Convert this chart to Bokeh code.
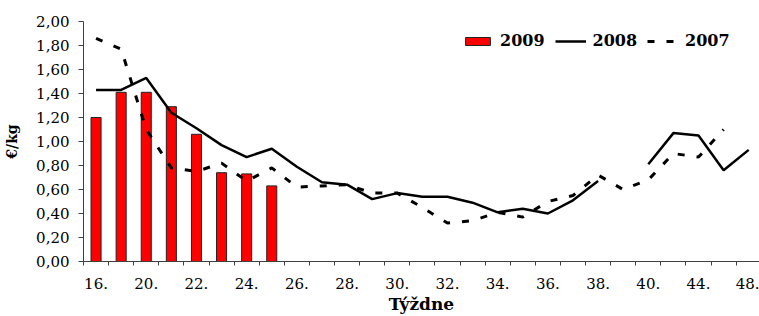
from bokeh.plotting import figure
from bokeh.models import (Range1d, FixedTicker, CustomJSTickFormatter, Legend,
                          LegendItem, ColumnDataSource)
from bokeh.embed import file_html
from bokeh.resources import INLINE

NaN = float("nan")

# categories (weeks) and tick labels
weeks = ["16.", "18.", "20.", "21.", "22.", "23.", "24.", "25.", "26.", "27.",
         "28.", "29.", "30.", "31.", "32.", "33.", "34.", "35.", "36.", "37.",
         "38.", "39.", "40.", "42.", "44.", "46.", "48."]

# series values (EUR/kg)
y2009 = [1.20, 1.41, 1.41, 1.29, 1.06, 0.74, 0.73, 0.63]
y2008 = [1.43, 1.43, 1.53, 1.24, 1.11, 0.97, 0.87, 0.94, 0.79, 0.66, 0.64, 0.52,
         0.57, 0.54, 0.54, 0.49, 0.41, 0.44, 0.40, 0.51, 0.67, NaN, 0.81, 1.07,
         1.05, 0.76, 0.93]
y2007 = [1.86, 1.77, 1.10, 0.78, 0.75, 0.82, 0.67, 0.78, 0.62, 0.63, 0.64, 0.57,
         0.57, 0.45, 0.32, 0.34, 0.41, 0.37, 0.50, 0.55, 0.72, 0.60, 0.68, 0.90,
         0.87, 1.10, NaN]

y_ticks = [0.0, 0.2, 0.4, 0.6, 0.8, 1.0, 1.2, 1.4, 1.6, 1.8, 2.0]

n = len(weeks)
xc = [i + 0.5 for i in range(n)]

line_src = ColumnDataSource(dict(x=xc, y08=y2008, y07=y2007))
bar_src = ColumnDataSource(dict(x=xc[:len(y2009)], top=y2009))

SERIF = "DejaVu Serif"

p = figure(width=759, height=316, x_range=Range1d(0, 26.93), y_range=Range1d(0, 2),
           output_backend="svg", toolbar_location=None,
           min_border_left=83, min_border_right=0, min_border_top=21, min_border_bottom=52)
p.outline_line_color = None
p.xgrid.visible = False
p.ygrid.visible = False
p.background_fill_color = "white"
p.border_fill_color = "white"

bars = p.vbar(x="x", top="top", width=0.4, source=bar_src,
              fill_color="#FF0000", line_color="#222222", line_width=1)
l08 = p.line(x="x", y="y08", source=line_src, line_color="black", line_width=2.5)
l07 = p.line(x="x", y="y07", source=line_src, line_color="black", line_width=3,
             line_dash="7 12")

# x axis: ticks between categories, labels every second category
xa = p.xaxis[0]
xa.ticker = FixedTicker(ticks=[xc[i] for i in range(0, n, 2)],
                        minor_ticks=list(range(0, n + 1)))
xa.formatter = CustomJSTickFormatter(args=dict(labels=weeks),
                                     code="return labels[Math.round(tick - 0.5)];")
xa.major_tick_out = 0
xa.major_tick_in = 0
xa.minor_tick_out = 4
xa.minor_tick_in = 0
xa.axis_line_color = "#404040"
xa.minor_tick_line_color = "#404040"
xa.major_label_text_font = SERIF
xa.major_label_text_font_size = "15px"
xa.major_label_text_color = "black"
xa.major_label_standoff = 12
xa.axis_label = "Týždne"
xa.axis_label_text_font = SERIF
xa.axis_label_text_font_style = "bold"
xa.axis_label_text_font_size = "17px"
xa.axis_label_text_color = "black"
xa.axis_label_standoff = 2

ya = p.yaxis[0]
ya.ticker = FixedTicker(ticks=y_ticks)
ya.formatter = CustomJSTickFormatter(code="return tick.toFixed(2).replace('.', ',');")
ya.major_tick_out = 5
ya.major_tick_in = 0
ya.minor_tick_line_color = None
ya.axis_line_color = "#404040"
ya.major_tick_line_color = "#404040"
ya.major_label_text_font = SERIF
ya.major_label_text_font_size = "15px"
ya.major_label_text_color = "black"
ya.major_label_standoff = 9
ya.axis_label = "€/kg"
ya.axis_label_text_font = SERIF
ya.axis_label_text_font_style = "bold"
ya.axis_label_text_font_size = "14px"
ya.axis_label_text_color = "black"
ya.axis_label_standoff = 13

legend = Legend(items=[LegendItem(label="2009", renderers=[bars]),
                       LegendItem(label="2008", renderers=[l08]),
                       LegendItem(label="2007", renderers=[l07])],
                orientation="horizontal", location=(379, 211), padding=0, margin=0,
                spacing=10, label_standoff=7, glyph_width=31, glyph_height=10,
                border_line_color=None, background_fill_alpha=0,
                label_text_font=SERIF, label_text_font_style="bold",
                label_text_font_size="16px", label_text_color="black")
p.add_layout(legend)

open("out.html", "w").write(file_html(p, INLINE))
